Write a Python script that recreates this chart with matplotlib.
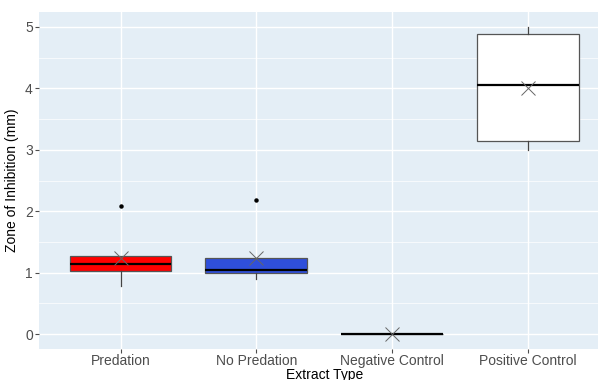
import matplotlib.pyplot as plt
import numpy as np

plt.rcParams['font.family'] = ['Liberation Sans', 'DejaVu Sans']

categories = ['Predation', 'No Predation', 'Negative Control', 'Positive Control']
whislo = [0.79, 0.90, 0.0, 3.0]
q1 = [1.02, 0.99, 0.0, 3.15]
med = [1.145, 1.04, 0.0, 4.05]
q3 = [1.27, 1.24, 0.0, 4.88]
whishi = [1.27, 1.24, 0.0, 5.0]
outliers = [[2.09], [2.19], [], []]
means = [1.24, 1.24, 0.0, 4.01]
fills = ['#FF0000', '#2F4FDB', 'white', 'white']

stats = []
for i in range(len(categories)):
    stats.append(dict(label=categories[i], whislo=whislo[i], q1=q1[i], med=med[i],
                      q3=q3[i], whishi=whishi[i], fliers=outliers[i]))

fig = plt.figure(figsize=(5.98, 3.8), dpi=100)
ax = fig.add_axes([39 / 598, 31 / 380, 570.6 / 598, 337 / 380])
ax.set_facecolor('#E4EEF6')

pos = np.arange(1, len(categories) + 1)
bp = ax.bxp(stats, positions=pos, widths=0.75, patch_artist=True, showcaps=False,
            boxprops=dict(edgecolor='#555555', linewidth=0.9),
            whiskerprops=dict(color='#444444', linewidth=0.9),
            medianprops=dict(color='black', linewidth=1.6),
            flierprops=dict(marker='o', markersize=2.2, markerfacecolor='black',
                            markeredgecolor='black'), zorder=3)
for patch, c in zip(bp['boxes'], fills):
    patch.set_facecolor(c)

ax.plot(pos, means, linestyle='none', marker='x', markersize=9.5, color='#666666',
        markeredgewidth=0.7, zorder=5)

ax.set_xlim(0.4, 4.6)
ax.set_ylim(-0.244, 5.244)
ax.set_xticks(pos)
ax.set_xticklabels(categories)
ax.set_yticks(range(6))
ax.set_yticks(np.arange(0.5, 5.5, 1), minor=True)
ax.grid(which='major', color='white', linewidth=1.0, zorder=0)
ax.grid(which='minor', axis='y', color='white', linewidth=0.5, zorder=0)
ax.set_axisbelow(True)
for s in ax.spines.values():
    s.set_visible(False)
ax.tick_params(which='major', length=3, color='#4D4D4D', labelcolor='#4D4D4D',
               labelsize=10, pad=1.5)
ax.tick_params(axis='x', pad=0.5)
ax.tick_params(which='minor', length=0)
ax.set_xlabel('Extract Type', fontsize=10, labelpad=0)
ax.set_ylabel('Zone of Inhibition (mm)', fontsize=10, labelpad=4)

fig.savefig('out.png', dpi=100)
